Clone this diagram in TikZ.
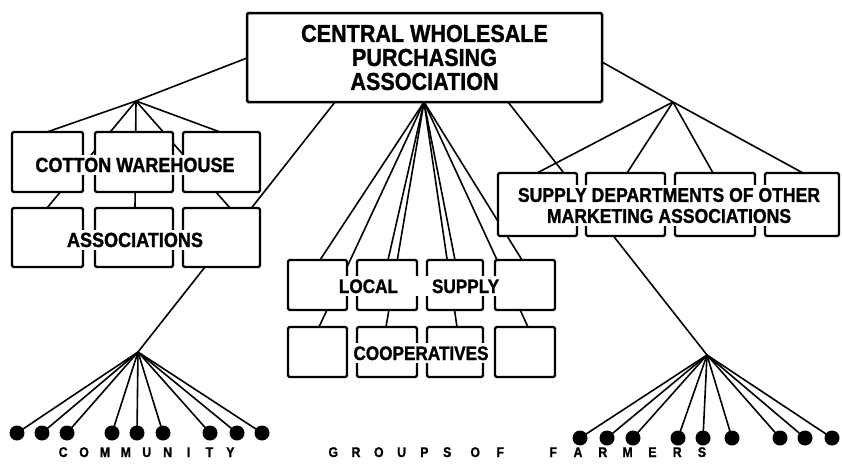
\documentclass[tikz,border=0pt]{standalone}
\usepackage{fontspec}
\newfontfamily\lblfont{Liberation Sans}[FakeStretch=0.88, FakeBold=1.2]
\usetikzlibrary{fit}
\pgfdeclarelayer{bg}
\pgfsetlayers{bg,main}
\newcommand\myspacedword[2]{\def\myspw{#1}\myspwloop#2\relax}
\def\myspwloop#1{\ifx#1\relax\else\makebox[\myspw][c]{#1}\expandafter\myspwloop\fi}
\begin{document}
\begin{tikzpicture}[x=1pt,y=-1pt,
  boxst/.style={draw, line width=2.3pt, fill=white, rounded corners=1.5pt, inner sep=0pt, outer sep=0pt},
  conn/.style={line width=1.6pt},
  lbl/.style={fill=white, inner xsep=3pt, inner ysep=3pt, text=black},
  dotst/.style={circle, fill=black, inner sep=0pt, minimum size=15pt},
  bottomtxt/.style={inner sep=0pt, font=\lblfont\bfseries\fontsize{14}{14}\selectfont}]
\useasboundingbox (0,0) rectangle (842,463);

% named points
\coordinate (capex) at (136,101);
\coordinate (sapex) at (673,102);
\coordinate (lsapex) at (424,102);
\coordinate (lapex) at (138,352);
\coordinate (rapex) at (707,355);
\coordinate (cwL) at (247,58);
\coordinate (cwR) at (602,62);
\coordinate (cwB1) at (335,102);
\coordinate (cwB3) at (508,102);

% central box
\node[boxst, line width=2.5pt, fit={(247,13)(602,102)}] (cwpa) {};
\node[align=center, inner sep=0pt, font=\lblfont\bfseries\fontsize{24.5}{24}\selectfont] (cwpatxt) at (cwpa.center)
  {CENTRAL WHOLESALE\\PURCHASING\\ASSOCIATION};

% cotton warehouse associations
\node[boxst, fit={(12,132)(83,192)}] (ct1) {};
\node[boxst, fit={(95,132)(173,192)}] (ct2) {};
\node[boxst, fit={(183,132)(260,192)}] (ct3) {};
\node[boxst, fit={(12,208)(83,267)}] (cb1) {};
\node[boxst, fit={(95,208)(173,267)}] (cb2) {};
\node[boxst, fit={(183,208)(260,267)}] (cb3) {};

% supply departments
\node[boxst, fit={(498,173)(577,236)}] (s1) {};
\node[boxst, fit={(586,173)(665,236)}] (s2) {};
\node[boxst, fit={(675,173)(755,236)}] (s3) {};
\node[boxst, fit={(765,173)(839,236)}] (s4) {};

% local supply cooperatives
\node[boxst, fit={(288,260)(347,310)}] (lt1) {};
\node[boxst, fit={(357,260)(417,310)}] (lt2) {};
\node[boxst, fit={(427,260)(483,310)}] (lt3) {};
\node[boxst, fit={(495,260)(555,310)}] (lt4) {};
\node[boxst, fit={(288,327)(347,377)}] (lb1) {};
\node[boxst, fit={(357,327)(417,377)}] (lb2) {};
\node[boxst, fit={(427,327)(483,377)}] (lb3) {};
\node[boxst, fit={(495,327)(555,377)}] (lb4) {};

% community groups (dots)
\foreach \i/\x in {1/17,2/42,3/67,4/112,5/137,6/163,7/210,8/237,9/262}
  \node[dotst] (ld\i) at (\x,433) {};
\foreach \i/\x in {1/580,2/607,3/633,4/678,5/703,6/732,7/780,8/805,9/832}
  \node[dotst] (rd\i) at (\x,438) {};

% connectors
\begin{pgfonlayer}{bg}
\fill[white] (0,0) rectangle (842,463);
\draw[conn] (cwL) -- (capex);
\draw[conn] (cwR) -- (sapex);
\draw[conn] (cwB1) -- (lapex);
\draw[conn] (cwB3) -- (rapex);
% cotton fan
\draw[conn] (capex) -- ([xshift=35pt]ct1.north west);
\draw[conn] (capex) -- ([xshift=37pt]ct3.north west);
\draw[conn] (capex) -- ([xshift=35pt]cb1.north west);
\draw[conn] (capex) -- ([xshift=40pt]cb2.north west);
\draw[conn] (capex) -- ([xshift=47pt]cb3.north west);
% supply fan
\draw[conn] (sapex) -- ([xshift=39pt]s1.north west);
\draw[conn] (sapex) -- ([xshift=41pt]s2.north west);
\draw[conn] (sapex) -- ([xshift=38pt]s3.north west);
\draw[conn] (sapex) -- ([xshift=38pt]s4.north west);
% local fan
\draw[conn] (lsapex) -- ([xshift=32pt]lt1.north west);
\draw[conn] (lsapex) -- ([xshift=31pt]lt2.north west);
\draw[conn] (lsapex) -- ([xshift=28pt]lt3.north west);
\draw[conn] (lsapex) -- ([xshift=27pt]lt4.north west);
\draw[conn] (lsapex) -- ([xshift=31pt]lb1.north west);
\draw[conn] (lsapex) -- ([xshift=29pt]lb2.north west);
\draw[conn] (lsapex) -- ([xshift=30pt]lb3.north west);
\draw[conn] (lsapex) -- ([xshift=33pt]lb4.north west);
% community fans
\foreach \i in {1,...,9} {
  \draw[conn] (lapex) -- (ld\i.center);
  \draw[conn] (rapex) -- (rd\i.center);
}
\end{pgfonlayer}

% labels
\node[lbl, anchor=base, font=\lblfont\bfseries\fontsize{20.5}{20.5}\selectfont] (cwhtxt) at (135,172) {COTTON WAREHOUSE};
\node[lbl, anchor=base, font=\lblfont\bfseries\fontsize{20.5}{20.5}\selectfont] (cwatxt) at (135,247) {ASSOCIATIONS};
\node[lbl, align=center, font=\lblfont\bfseries\fontsize{20}{21}\selectfont] (sdtxt) at (669,205.5)
  {SUPPLY DEPARTMENTS OF OTHER\\MARKETING ASSOCIATIONS};
\node[lbl, anchor=base, font=\lblfont\bfseries\fontsize{19.5}{19.5}\selectfont] (lstxt) at (419,293) {LOCAL\hspace{34pt}SUPPLY};
\node[lbl, anchor=base, font=\lblfont\bfseries\fontsize{19.5}{19.5}\selectfont] (lctxt) at (421,360) {COOPERATIVES};

% bottom caption
\node[bottomtxt, anchor=base west] (w1) at (52.5,457) {\myspacedword{20.9pt}{COMMUNITY}};
\node[bottomtxt, anchor=base west] (w2) at (321.6,457) {\myspacedword{22.8pt}{GROUPS}};
\node[bottomtxt, anchor=base west] (w3) at (462.5,457) {\myspacedword{25pt}{OF}};
\node[bottomtxt, anchor=base west] (w4) at (540.6,457) {\myspacedword{24.8pt}{FARMERS}};
\end{tikzpicture}
\end{document}
